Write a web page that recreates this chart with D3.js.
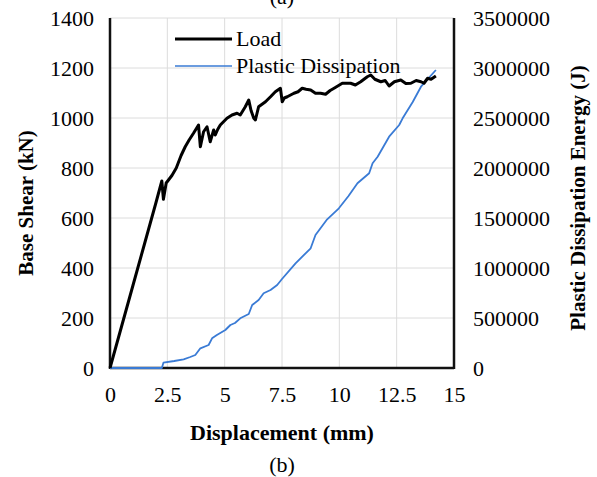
<!DOCTYPE html>
<html>
<head>
<meta charset="utf-8">
<script src="https://cdn.jsdelivr.net/npm/d3@7"></script>
<style>
  html, body { margin: 0; padding: 0; background: #fff; }
  svg { display: block; }
  text { font-family: "Liberation Serif", "Times New Roman", serif; fill: #000; }
</style>
</head>
<body>
<svg id="chart" width="597" height="477"></svg>
<script>
// Displacement (mm) vs base shear (kN)
const loadDisp = [0, 0.5, 1.0, 1.5, 2.0, 2.2, 2.26, 2.33, 2.45, 2.55, 2.7, 2.89, 3.1, 3.28, 3.45, 3.64, 3.78, 3.86, 3.94, 4.08, 4.23, 4.37, 4.52, 4.59, 4.7, 4.81, 4.95, 5.10, 5.32, 5.54, 5.68, 5.90, 6.05, 6.15, 6.27, 6.34, 6.48, 6.78, 7.0, 7.21, 7.43, 7.51, 7.6, 7.73, 8.02, 8.2, 8.38, 8.55, 8.75, 8.96, 9.18, 9.4, 9.6, 9.77, 10.13, 10.49, 10.7, 10.93, 11.22, 11.37, 11.55, 11.81, 12.0, 12.17, 12.4, 12.68, 12.9, 13.12, 13.35, 13.56, 13.69, 13.85, 14.0, 14.21];
const loadKN = [0, 165, 330, 495, 660, 728, 748, 675, 740, 752, 770, 800, 850, 885, 912, 939, 960, 972, 885, 945, 965, 905, 952, 932, 955, 972, 985, 999, 1012, 1019, 1012, 1045, 1072, 1030, 999, 992, 1045, 1065, 1085, 1105, 1119, 1065, 1080, 1085, 1099, 1105, 1119, 1115, 1112, 1099, 1099, 1095, 1110, 1119, 1139, 1139, 1132, 1145, 1165, 1172, 1155, 1145, 1150, 1128, 1145, 1152, 1138, 1139, 1150, 1145, 1139, 1159, 1155, 1168];

// Displacement (mm) vs plastic dissipation energy (J)
const plasticDisp = [0, 2.26, 2.33, 2.8, 3.21, 3.5, 3.72, 3.94, 4.30, 4.45, 4.66, 5.03, 5.25, 5.45, 5.68, 6.05, 6.20, 6.48, 6.7, 7.0, 7.29, 7.5, 8.09, 8.75, 8.96, 9.47, 9.98, 10.4, 10.79, 11.30, 11.45, 11.67, 12.17, 12.61, 12.76, 13.2, 13.56, 14.21];
const plasticJ = [0, 0, 53000, 70000, 87000, 110000, 130000, 197000, 230000, 297000, 330000, 380000, 430000, 450000, 497000, 540000, 630000, 680000, 747000, 780000, 830000, 890000, 1047000, 1197000, 1330000, 1487000, 1597000, 1720000, 1847000, 1947000, 2047000, 2113000, 2313000, 2430000, 2497000, 2660000, 2813000, 2980000];

const xTicks = [0, 2.5, 5, 7.5, 10, 12.5, 15];
const xTickLabels = ["0", "2.5", "5", "7.5", "10", "12.5", "15"];
const yLeftTicks = [0, 200, 400, 600, 800, 1000, 1200, 1400];
const yRightTicks = [0, 500000, 1000000, 1500000, 2000000, 2500000, 3000000, 3500000];

const seriesNames = ["Load", "Plastic Dissipation"];
const xTitle = "Displacement (mm)";
const yLeftTitle = "Base Shear (kN)";
const yRightTitle = "Plastic Dissipation Energy (J)";

const svg = d3.select("#chart");
const plot = { left: 110, right: 454, top: 18, bottom: 368 };

const x = d3.scaleLinear().domain([0, 15]).range([plot.left, plot.right]);
const yL = d3.scaleLinear().domain([0, 1400]).range([plot.bottom, plot.top]);
const yR = d3.scaleLinear().domain([0, 3500000]).range([plot.bottom, plot.top]);

// grid
const grid = svg.append("g");
grid.selectAll("line.v").data(xTicks.slice(1, -1)).join("line")
  .attr("x1", d => x(d)).attr("x2", d => x(d))
  .attr("y1", plot.top).attr("y2", plot.bottom)
  .attr("stroke", "#dcdcdc").attr("stroke-width", 1);
grid.selectAll("line.h").data(yLeftTicks.slice(1)).join("line")
  .attr("x1", plot.left).attr("x2", plot.right)
  .attr("y1", d => yL(d)).attr("y2", d => yL(d))
  .attr("stroke", "#dcdcdc").attr("stroke-width", 1);

// axes
const fs = "22px";
const xAxis = d3.axisBottom(x).tickValues(xTicks).tickFormat((d, i) => xTickLabels[i]).tickSize(0).tickPadding(18);
const gx = svg.append("g").attr("transform", `translate(0,${plot.bottom})`).call(xAxis);
gx.select(".domain").remove();
gx.selectAll("text").style("font-size", fs).style("font-family", "Liberation Serif");

const gyl = svg.append("g").attr("transform", `translate(${plot.left},0)`)
  .call(d3.axisLeft(yL).tickValues(yLeftTicks).tickFormat(d3.format("d")).tickSize(0).tickPadding(16));
gyl.select(".domain").remove();
gyl.selectAll("text").style("font-size", fs).style("font-family", "Liberation Serif");

const gyr = svg.append("g").attr("transform", `translate(${plot.right},0)`)
  .call(d3.axisRight(yR).tickValues(yRightTicks).tickFormat(d3.format("d")).tickSize(0).tickPadding(19));
gyr.select(".domain").remove();
gyr.selectAll("text").style("font-size", fs).style("font-family", "Liberation Serif");

// frame lines
svg.append("line").attr("x1", plot.left).attr("x2", plot.left).attr("y1", plot.top).attr("y2", plot.bottom + 1)
  .attr("stroke", "#111").attr("stroke-width", 2.5);
svg.append("line").attr("x1", plot.right).attr("x2", plot.right).attr("y1", plot.top).attr("y2", plot.bottom + 1)
  .attr("stroke", "#111").attr("stroke-width", 2.5);
svg.append("line").attr("x1", plot.left).attr("x2", plot.right).attr("y1", plot.bottom).attr("y2", plot.bottom)
  .attr("stroke", "#111").attr("stroke-width", 2.5);

// series
const loadData = loadDisp.map((d, i) => [d, loadKN[i]]);
const plasticData = plasticDisp.map((d, i) => [d, plasticJ[i]]);

svg.append("path").datum(plasticData)
  .attr("fill", "none").attr("stroke", "#3a7bd5").attr("stroke-width", 1.8)
  .attr("stroke-linejoin", "round")
  .attr("d", d3.line().x(d => x(d[0])).y(d => yR(d[1])));

svg.append("path").datum(loadData)
  .attr("fill", "none").attr("stroke", "#000").attr("stroke-width", 3)
  .attr("stroke-linejoin", "round")
  .attr("d", d3.line().x(d => x(d[0])).y(d => yL(d[1])));

// legend
const legend = svg.append("g");
const legendY = [39, 66];
const legendStyle = [{ c: "#000", w: 3 }, { c: "#3a7bd5", w: 1.6 }];
seriesNames.forEach((name, i) => {
  legend.append("line").attr("x1", 175).attr("x2", 232).attr("y1", legendY[i]).attr("y2", legendY[i])
    .attr("stroke", legendStyle[i].c).attr("stroke-width", legendStyle[i].w);
  legend.append("text").attr("x", 236).attr("y", legendY[i] + 7)
    .style("font-size", "22px").text(name);
});

// titles
svg.append("text").attr("x", 282).attr("y", 440)
  .attr("text-anchor", "middle").style("font-size", "22px").style("font-weight", "bold").text(xTitle);
svg.append("text").attr("transform", `translate(33,${(plot.top + plot.bottom) / 2 + 10}) rotate(-90)`)
  .attr("text-anchor", "middle").style("font-size", "21px").style("font-weight", "bold").text(yLeftTitle);
svg.append("text").attr("transform", `translate(585,${(plot.top + plot.bottom) / 2 + 5}) rotate(-90)`)
  .attr("text-anchor", "middle").style("font-size", "21px").style("font-weight", "bold").text(yRightTitle);

// panel captions
svg.append("text").attr("x", 282).attr("y", 472).attr("text-anchor", "middle").style("font-size", "22px").text("(b)");
svg.append("text").attr("x", 282).attr("y", 4).attr("text-anchor", "middle").style("font-size", "22px").text("(a)");
</script>
</body>
</html>
